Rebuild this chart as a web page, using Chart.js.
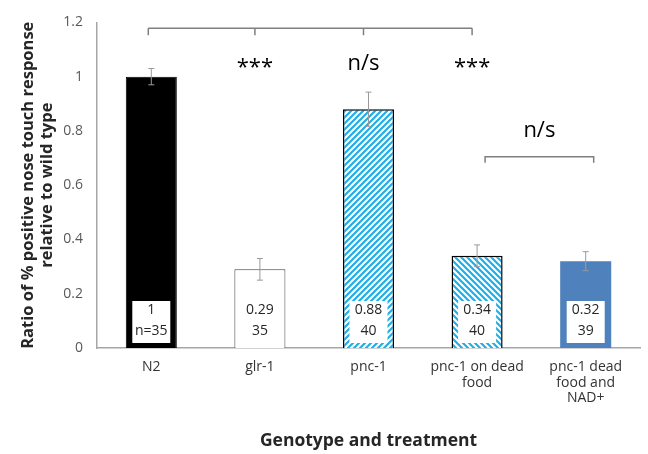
<!DOCTYPE html>
<html>
<head>
<meta charset="utf-8">
<script src="https://cdn.jsdelivr.net/npm/chart.js@4.4.0/dist/chart.umd.min.js"></script>
<style>
  body { margin: 0; background: #fff; }
  canvas { display: block; }
</style>
</head>
<body>
<canvas id="nosetouch" width="648" height="454"></canvas>
<script>
const categories = [['N2'], ['glr-1'], ['pnc-1'], ['pnc-1 on dead', 'food'], ['pnc-1 dead', 'food and', 'NAD+']];
const ratios = [1, 0.29, 0.88, 0.34, 0.32];
const errors = [0.03, 0.04, 0.063, 0.04, 0.035];
const valueLabels = ['1', '0.29', '0.88', '0.34', '0.32'];
const countLabels = ['n=35', '35', '40', '40', '39'];
const yMax = 1.2;
const yStep = 0.2;
// significance vs N2, placed over bars 1..3
const sigLabels = ['***', 'n/s', '***'];
const sigBars = [1, 2, 3];
const topBracket = [0, 1, 2, 3];
const topBracketY = 1.178;
const sigY = 1.047;
const pairBracket = [3, 4];
const pairBracketY = 0.705;
const pairLabel = 'n/s';
const pairLabelY = 0.80;

function hatch(dir) {
    const s = 6;
    const c = document.createElement('canvas');
    c.width = s; c.height = s;
    const g = c.getContext('2d');
    g.fillStyle = '#fff';
    g.fillRect(0, 0, s, s);
    g.strokeStyle = '#1eaee8';
    g.lineWidth = 2.2;
    g.beginPath();
    if (dir === 'up') {
        g.moveTo(-1, 1); g.lineTo(1, -1);
        g.moveTo(0, s); g.lineTo(s, 0);
        g.moveTo(s - 1, s + 1); g.lineTo(s + 1, s - 1);
    } else {
        g.moveTo(-1, s - 1); g.lineTo(1, s + 1);
        g.moveTo(0, 0); g.lineTo(s, s);
        g.moveTo(s - 1, -1); g.lineTo(s + 1, 1);
    }
    g.stroke();
    return g.createPattern(c, 'repeat');
}

const ctx = document.getElementById('nosetouch').getContext('2d');

const annotations = {
    id: 'annotations',
    afterDatasetsDraw(chart) {
        const c = chart.ctx;
        const x = chart.scales.x;
        const y = chart.scales.y;
        const meta = chart.getDatasetMeta(0);
        c.save();

        // error bars
        c.strokeStyle = '#9a9a9a';
        c.lineWidth = 1;
        ratios.forEach(function (v, i) {
            const px = meta.data[i].x;
            const top = y.getPixelForValue(v + errors[i]);
            const bot = y.getPixelForValue(v - errors[i]);
            c.beginPath();
            c.moveTo(px, top); c.lineTo(px, bot);
            c.moveTo(px - 3, top); c.lineTo(px + 3, top);
            c.moveTo(px - 3, bot); c.lineTo(px + 3, bot);
            c.stroke();
        });

        // value boxes inside bars
        c.font = '14px "Open Sans"';
        c.textAlign = 'center';
        c.textBaseline = 'middle';
        const y0 = y.getPixelForValue(0);
        ratios.forEach(function (v, i) {
            const px = meta.data[i].x;
            c.fillStyle = '#fff';
            c.fillRect(px - 19, y0 - 47, 38, 42);
            c.fillStyle = '#262626';
            c.fillText(valueLabels[i], px, y0 - 38);
            c.fillText(countLabels[i], px, y0 - 17);
        });

        // brackets
        c.strokeStyle = '#7f7f7f';
        c.lineWidth = 1.5;
        const by = y.getPixelForValue(topBracketY);
        c.beginPath();
        c.moveTo(x.getPixelForValue(topBracket[0]) - 3, by);
        c.lineTo(x.getPixelForValue(topBracket[topBracket.length - 1]) - 5, by);
        topBracket.forEach(function (b) {
            const px = x.getPixelForValue(b) - (b === 0 ? 3 : 5);
            c.moveTo(px, by); c.lineTo(px, by + 7);
        });
        const py = y.getPixelForValue(pairBracketY);
        const p0 = x.getPixelForValue(pairBracket[0]) + 8;
        const p1 = x.getPixelForValue(pairBracket[1]) + 8;
        c.moveTo(p0, py + 6); c.lineTo(p0, py); c.lineTo(p1, py); c.lineTo(p1, py + 6);
        c.stroke();

        // significance text
        c.fillStyle = '#000';
        c.font = '22px "Open Sans"';
        sigLabels.forEach(function (t, i) {
            const px = x.getPixelForValue(sigBars[i]) - 5;
            c.fillText(t, px, y.getPixelForValue(sigY) + (t === '***' ? 4 : 0));
        });
        c.fillText(pairLabel, (p0 + p1) / 2, y.getPixelForValue(pairLabelY));
        c.restore();
    }
};

new Chart(ctx, {
    type: 'bar',
    data: {
        labels: categories,
        datasets: [{
            data: ratios,
            backgroundColor: ['#000000', '#ffffff', hatch('up'), hatch('down'), '#4f81bd'],
            borderColor: ['#000000', '#404040', '#000000', '#000000', '#4f81bd'],
            borderWidth: [1, 1, 1.5, 1.5, 0],
            barPercentage: 0.47,
            categoryPercentage: 1
        }]
    },
    options: {
        responsive: false,
        animation: false,
        layout: { padding: { left: 0, right: 8, top: 18, bottom: 0 } },
        plugins: {
            legend: { display: false },
            tooltip: { enabled: false }
        },
        scales: {
            x: {
                grid: { display: false, drawTicks: false },
                border: { color: '#a6a6a6', width: 1.5 },
                ticks: {
                    color: '#333333',
                    font: { family: 'Open Sans', size: 14, lineHeight: 1.12 },
                    padding: 11,
                    maxRotation: 0,
                    autoSkip: false
                },
                title: {
                    display: true,
                    text: 'Genotype and treatment',
                    color: '#262626',
                    font: { family: 'Open Sans', size: 17.5, weight: 'bold' },
                    padding: { top: 0, bottom: 2 }
                },
                afterFit(scale) { scale.height = 106; }
            },
            y: {
                min: 0,
                max: yMax,
                grid: { display: false, drawTicks: false },
                border: { color: '#a6a6a6', width: 1.5 },
                ticks: {
                    stepSize: yStep,
                    color: '#595959',
                    font: { family: 'Open Sans', size: 14 },
                    padding: 14,
                    callback: function (v) { return String(+v.toFixed(1)); }
                },
                title: {
                    display: true,
                    text: ['Ratio of % positive nose touch response', 'relative to wild type'],
                    color: '#262626',
                    font: { family: 'Open Sans', size: 16.5, weight: 'bold', lineHeight: 1.2 },
                    padding: { top: 18, bottom: 0 }
                },
                afterFit(scale) { scale.width = 97; }
            }
        }
    },
    plugins: [annotations]
});
</script>
</body>
</html>
